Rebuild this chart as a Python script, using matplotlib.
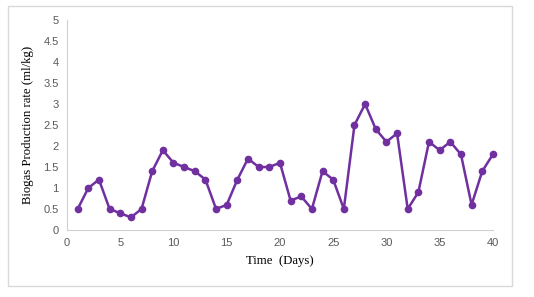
import matplotlib
matplotlib.use("Agg")
import matplotlib.pyplot as plt
from matplotlib.patches import Rectangle

days = list(range(1, 41))
biogas = [0.5, 1.0, 1.2, 0.5, 0.4, 0.3, 0.5, 1.4, 1.9, 1.6,
          1.5, 1.4, 1.2, 0.5, 0.6, 1.2, 1.7, 1.5, 1.5, 1.6,
          0.7, 0.8, 0.5, 1.4, 1.2, 0.5, 2.5, 3.0, 2.4, 2.1,
          2.3, 0.5, 0.9, 2.1, 1.9, 2.1, 1.8, 0.6, 1.4, 1.8]
xticks = [0, 5, 10, 15, 20, 25, 30, 35, 40]
yticks = [0, 0.5, 1, 1.5, 2, 2.5, 3, 3.5, 4, 4.5, 5]

fig = plt.figure(figsize=(5.34, 2.97), dpi=100)
ax = fig.add_axes([0.1255, 0.2256, 0.7975, 0.707])

# outer chart border
fig.patches.append(Rectangle((8 / 534, 1 - 286 / 297), 504 / 534, 280 / 297,
                             transform=fig.transFigure, fill=False,
                             edgecolor="#d9d9d9", linewidth=1))

ax.plot(days, biogas, color="#7030a0", linewidth=1.8, marker="o",
        markersize=5.5, markeredgewidth=0, clip_on=False)

ax.set_xlim(0, 40)
ax.set_ylim(0, 5)
ax.set_xticks(xticks)
ax.set_yticks(yticks)
ax.set_yticklabels([f"{t:g}" for t in yticks])
ax.tick_params(length=0, labelsize=8, labelcolor="#595959", pad=6,
               labelfontfamily="Liberation Sans")

for s in ["top", "right"]:
    ax.spines[s].set_visible(False)
for s in ["left", "bottom"]:
    ax.spines[s].set_color("#d0d0d0")
    ax.spines[s].set_linewidth(0.8)

ax.set_xlabel("Time  (Days)", fontfamily="Liberation Serif", fontsize=9.2, labelpad=5)
ax.set_ylabel("Biogas Production rate (ml/kg)", fontfamily="Liberation Serif",
              fontsize=9.2, labelpad=7)

fig.savefig("out.png", dpi=100)
